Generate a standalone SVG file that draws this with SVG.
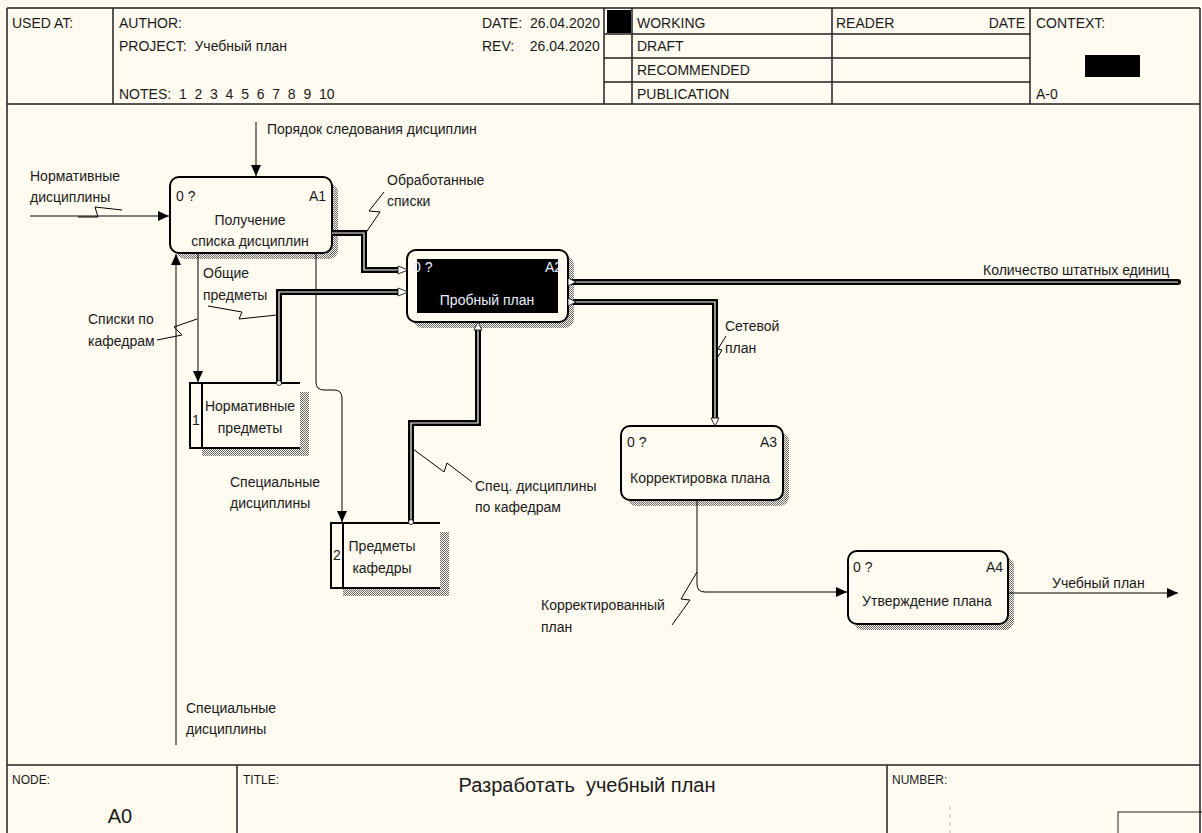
<svg xmlns="http://www.w3.org/2000/svg" width="1202" height="833" viewBox="0 0 1202 833">
<style>
text{font-family:"Liberation Sans",Arial,sans-serif;font-size:14px;fill:#1a1a1a;white-space:pre}
.sm{font-size:12px}
.big{font-size:20px}
.frame{fill:none;stroke:#222;stroke-width:1.5}
.node{fill:#fffbf0;stroke:#000;stroke-width:2}
.shadow{fill:url(#hatch)}
.thin{fill:none;stroke:#000;stroke-width:1}
.thickO{fill:none;stroke:#000;stroke-width:6}
.thickI{fill:none;stroke:#fffbf0;stroke-width:1.2}
.sq{fill:none;stroke:#000;stroke-width:1}
.mid{text-anchor:middle}
.end{text-anchor:end}
.wt{fill:#e8f0ff}
</style>
<defs>
<pattern id="hatch" width="2" height="2" patternUnits="userSpaceOnUse">
<rect x="0" y="0" width="1" height="1" fill="#666"/>
<rect x="1" y="1" width="1" height="1" fill="#666"/>
</pattern>
<marker id="arr" markerWidth="12" markerHeight="10" refX="11" refY="5" orient="auto" markerUnits="userSpaceOnUse">
<path d="M0,0 L11,5 L0,10 Z" fill="#000"/>
</marker>
</defs>
<rect x="0" y="0" width="1202" height="833" fill="#fffbf0"/>
<g id="frame">
<path class="frame" d="M7,8 H1200 M7,8 V833 M1200,8 V833 M7,104 H1200 M113,8 V104 M604,8 V104 M632,8 V104 M832,8 V104 M1030,8 V104 M604,34 H1030 M604,58 H1030 M604,82 H1030 M7,765 H1200 M237,765 V833 M887,765 V833"/>
<rect x="607" y="10" width="24" height="23" fill="#000"/>
<rect x="1085" y="55" width="55" height="22" fill="#000"/>
<rect x="1118" y="812" width="90" height="25" fill="none" stroke="#222" stroke-width="1"/>
<line x1="950" y1="806" x2="950" y2="833" stroke="#bbb" stroke-width="1" stroke-dasharray="4,4"/>
<text x="12" y="28">USED AT:</text>
<text x="119" y="28">AUTHOR:</text>
<text x="119" y="51">PROJECT:  Учебный план</text>
<text x="119" y="99">NOTES:  1  2  3  4  5  6  7  8  9  10</text>
<text x="482" y="28">DATE:  26.04.2020</text>
<text x="482" y="51">REV:    26.04.2020</text>
<text x="637" y="28">WORKING</text>
<text x="637" y="51">DRAFT</text>
<text x="637" y="75">RECOMMENDED</text>
<text x="637" y="99">PUBLICATION</text>
<text x="836" y="28">READER</text>
<text x="1025" y="28" class="end">DATE</text>
<text x="1036" y="28">CONTEXT:</text>
<text x="1036" y="99">A-0</text>
<text x="12" y="784" class="sm">NODE:</text>
<text x="120" y="823" class="big mid">A0</text>
<text x="243" y="784" class="sm">TITLE:</text>
<text x="587" y="792" class="big mid">Разработать  учебный план</text>
<text x="892" y="784" class="sm">NUMBER:</text>
</g>
<g id="A1">
<rect class="shadow" x="176" y="183" width="162" height="76" rx="9"/>
<rect class="node" x="170" y="177" width="162" height="76" rx="9"/>
<text x="176" y="201">0 ?</text>
<text x="326" y="201" class="end">A1</text>
<text x="250" y="225" class="mid">Получение</text>
<text x="250" y="246" class="mid">списка дисциплин</text>
</g>
<g id="A2">
<rect class="shadow" x="413" y="256" width="161" height="72" rx="9"/>
<rect class="node" x="407" y="250" width="161" height="72" rx="9"/>
<rect x="417" y="259" width="141" height="54" fill="#000"/>
<text x="413" y="272" class="wt">0 ?</text>
<text x="562" y="272" class="wt end">A2</text>
<text x="487" y="305" class="wt mid">Пробный план</text>
</g>
<g id="A3">
<rect class="shadow" x="627" y="432" width="162" height="74" rx="9"/>
<rect class="node" x="621" y="426" width="162" height="74" rx="9"/>
<text x="627" y="447">0 ?</text>
<text x="777" y="447" class="end">A3</text>
<text x="700" y="483" class="mid">Корректировка плана</text>
</g>
<g id="A4">
<rect class="shadow" x="854" y="557" width="160" height="73" rx="9"/>
<rect class="node" x="848" y="551" width="160" height="73" rx="9"/>
<text x="853" y="572">0 ?</text>
<text x="1003" y="572" class="end">A4</text>
<text x="927" y="606" class="mid">Утверждение плана</text>
</g>
<g id="store1">
<rect class="shadow" x="202" y="392" width="107" height="64"/>
<rect x="190" y="383" width="110" height="65" fill="#fffbf0"/>
<path d="M300,383 H190 V448 H300 M202,383 V448" fill="none" stroke="#000" stroke-width="2"/>
<text x="196" y="425" class="mid">1</text>
<text x="250" y="411" class="mid">Нормативные</text>
<text x="250" y="433" class="mid">предметы</text>
</g>
<g id="store2">
<rect class="shadow" x="343" y="532" width="106" height="64"/>
<rect x="331" y="523" width="109" height="65" fill="#fffbf0"/>
<path d="M440,523 H331 V588 H440 M343,523 V588" fill="none" stroke="#000" stroke-width="2"/>
<text x="337" y="560" class="mid">2</text>
<text x="382" y="551" class="mid">Предметы</text>
<text x="382" y="573" class="mid">кафедры</text>
</g>
<g id="connectors">
<path class="thin" d="M256,122 V176" marker-end="url(#arr)"/>
<path class="thin" d="M30,216 H169" marker-end="url(#arr)"/>
<path class="thin" d="M176,745 V254" marker-end="url(#arr)"/>
<path class="thin" d="M198,253 V382" marker-end="url(#arr)"/>
<path class="thin" d="M316,253 V382 Q316,390 324,390 H334 Q342,390 342,398 V522" marker-end="url(#arr)"/>
<path class="thin" d="M697,500 V584 Q697,592 705,592 H847" marker-end="url(#arr)"/>
<path class="thin" d="M1008,593 H1178" marker-end="url(#arr)"/>
<g>
<path class="thickO" d="M332,233 H364 V270 H402"/>
<path class="thickI" d="M332,233 H364 V270 H402"/>
<path class="thickO" d="M279,383 V292 H402"/>
<path class="thickI" d="M279,383 V292 H402"/>
<path class="thickO" d="M478,327 V423 H411 V522"/>
<path class="thickI" d="M478,327 V423 H411 V522"/>
<path class="thickO" d="M573,282 H1178" stroke-linecap="round"/>
<path class="thickI" d="M573,282 H1178"/>
<path class="thickO" d="M573,302 H715 V421"/>
<path class="thickI" d="M573,302 H715 V421"/>
<g fill="#fff" stroke="#000" stroke-width="0.8">
<path d="M398,266 L408,270 L398,274 Z"/>
<path d="M398,288 L408,292 L398,296 Z"/>
<path d="M568,278 L576,282 L568,286 Z"/>
<path d="M568,298 L576,302 L568,306 Z"/>
<path d="M474,330 L478,322 L482,330 Z"/>
<path d="M711,418 L715,426 L719,418 Z"/>
<circle cx="279" cy="383" r="2.5"/>
<circle cx="411" cy="522" r="2.5"/>
</g>
</g>
<path class="sq" d="M122,210 L95,207 L98,217 L78,217"/>
<path class="sq" d="M365,234 L380,212 L369,211 L384,192"/>
<path class="sq" d="M208,306 L242,312 L239,319 L277,315"/>
<path class="sq" d="M157,340 L182,335 L174,327 L197,319"/>
<path class="sq" d="M413,449 L444,472 L447,463 L472,482"/>
<path class="sq" d="M716,360 L722,350 L718,349 L726,336"/>
<path class="sq" d="M672,625 L690,600 L681,599 L697,572"/>
<text x="267" y="134">Порядок следования дисциплин</text>
<text x="30" y="181">Нормативные</text>
<text x="30" y="202">дисциплины</text>
<text x="387" y="185">Обработанные</text>
<text x="387" y="206">списки</text>
<text x="203" y="278">Общие</text>
<text x="203" y="300">предметы</text>
<text x="88" y="324">Списки по</text>
<text x="88" y="346">кафедрам</text>
<text x="230" y="487">Специальные</text>
<text x="230" y="508">дисциплины</text>
<text x="475" y="491">Спец. дисциплины</text>
<text x="475" y="512">по кафедрам</text>
<text x="983" y="275">Количество штатных единиц</text>
<text x="725" y="331">Сетевой</text>
<text x="725" y="353">план</text>
<text x="541" y="610">Корректированный</text>
<text x="541" y="632">план</text>
<text x="1052" y="588">Учебный план</text>
<text x="186" y="713">Специальные</text>
<text x="186" y="734">дисциплины</text>
</g>
</svg>
